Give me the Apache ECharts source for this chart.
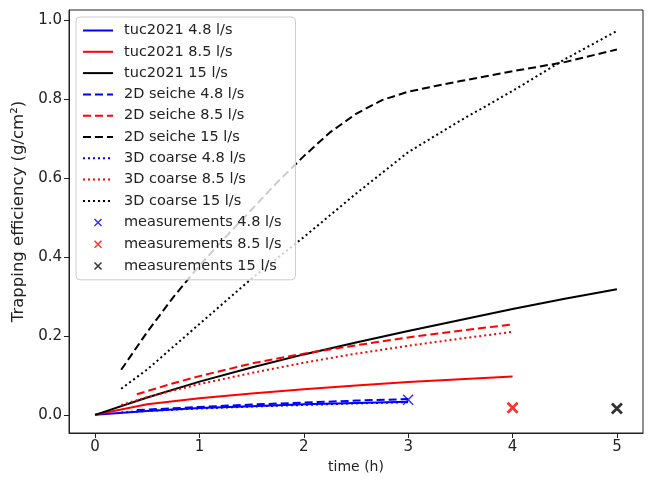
<!DOCTYPE html>
<html>
<head>
<meta charset="utf-8">
<script src="https://cdn.jsdelivr.net/npm/echarts@6/dist/echarts.min.js"></script>
<style>html,body{margin:0;padding:0;background:#fff}#c{width:652px;height:480px}</style>
</head>
<body>
<div id="c"></div>
<script>
// ---- data ----
const xTicks = [0, 1, 2, 3, 4, 5];
const yTicks = [0, 0.2, 0.4, 0.6, 0.8, 1.0];

const tucT15 = [0, 0.5, 1, 1.5, 2, 2.5, 3, 3.5, 4, 4.5, 5];
const tuc15 = [0, 0.044, 0.084, 0.12, 0.153, 0.183, 0.212, 0.24, 0.268, 0.294, 0.318];
const tucT85 = [0, 0.5, 1, 1.5, 2, 2.5, 3, 3.5, 4];
const tuc85 = [0, 0.027, 0.042, 0.054, 0.065, 0.074, 0.083, 0.09, 0.097];
const tucT48 = [0, 0.5, 1, 1.5, 2, 2.5, 3];
const tuc48 = [0, 0.01, 0.017, 0.022, 0.027, 0.03, 0.033];

const seicheT48 = [0.4, 1, 1.5, 2, 2.5, 3];
const seiche48 = [0.012, 0.02, 0.026, 0.031, 0.036, 0.04];
const seicheT85 = [0.4, 0.75, 1, 1.5, 2, 2.5, 3, 3.5, 4];
const seiche85 = [0.052, 0.08, 0.098, 0.13, 0.155, 0.176, 0.196, 0.213, 0.229];
const seicheT15 = [0.25, 0.5, 0.75, 1, 1.25, 1.5, 1.75, 2, 2.25, 2.5, 2.75, 3, 3.25, 3.5, 4, 4.5, 5];
const seiche15 = [0.114, 0.21, 0.298, 0.378, 0.45, 0.52, 0.59, 0.655, 0.715, 0.762, 0.797, 0.818, 0.832, 0.845, 0.87, 0.893, 0.925];

const coarseT48 = [0.25, 0.5, 1, 1.5, 2, 2.5, 3];
const coarse48 = [0.006, 0.01, 0.016, 0.021, 0.025, 0.029, 0.032];
const coarseT85 = [0.25, 0.5, 1, 1.5, 2, 2.5, 3, 3.5, 4];
const coarse85 = [0.025, 0.045, 0.078, 0.106, 0.132, 0.155, 0.175, 0.193, 0.21];
const coarseT15 = [0.25, 0.5, 1, 1.5, 2, 2.5, 3, 3.5, 4, 4.5, 5];
const coarse15 = [0.066, 0.115, 0.23, 0.345, 0.45, 0.56, 0.665, 0.745, 0.82, 0.9, 0.972];

const measT48 = [3], meas48 = [0.038];
const measT85 = [4], meas85 = [0.018];
const measT15 = [5], meas15 = [0.016];

// ---- chart ----
const BLUE = '#0000ff', RED = '#ff0000', BLACK = '#000000';
const DASH = [8, 4], DOT = [2, 3];
const XPATH = 'path://M-5,-5M15,15M0,0L10,10M10,0L0,10';
const zip = (t, v) => t.map((x, i) => [x, v[i]]);

function line(name, t, v, color, type) {
  return {
    name, type: 'line', data: zip(t, v), symbol: 'none', showSymbol: false,
    lineStyle: { color, width: 2, type }, itemStyle: { color },
    emphasis: { disabled: true }, animation: false
  };
}
function meas(name, t, v, color, bw) {
  return {
    name, type: 'scatter', data: zip(t, v),
    symbol: XPATH, symbolSize: 20,
    itemStyle: { color: color, borderColor: color, borderWidth: bw },
    emphasis: { disabled: true }, animation: false, z: 5
  };
}

const series = [
  line('tuc2021 4.8 l/s', tucT48, tuc48, BLUE, 'solid'),
  line('tuc2021 8.5 l/s', tucT85, tuc85, RED, 'solid'),
  line('tuc2021 15 l/s', tucT15, tuc15, BLACK, 'solid'),
  line('2D seiche 4.8 l/s', seicheT48, seiche48, BLUE, DASH),
  line('2D seiche 8.5 l/s', seicheT85, seiche85, RED, DASH),
  line('2D seiche 15 l/s', seicheT15, seiche15, BLACK, DASH),
  line('3D coarse 4.8 l/s', coarseT48, coarse48, BLUE, DOT),
  line('3D coarse 8.5 l/s', coarseT85, coarse85, RED, DOT),
  line('3D coarse 15 l/s', coarseT15, coarse15, BLACK, DOT),
  meas('measurements 4.8 l/s', measT48, meas48, BLUE, 1.5),
  meas('measurements 8.5 l/s', measT85, meas85, RED, 2.8),
  meas('measurements 15 l/s', measT15, meas15, BLACK, 2.8)
];

const legendData = series.map(s => s.type === 'line'
  ? { name: s.name, itemStyle: { opacity: 0 } }
  : { name: s.name, itemStyle: { borderWidth: 1.5 } });

const FONT = 'DejaVu Sans';
const chart = echarts.init(document.getElementById('c'), null, { renderer: 'canvas' });
chart.setOption({
  animation: false,
  backgroundColor: '#fff',
  textStyle: { fontFamily: FONT },
  grid: { left: 69, right: 9, top: 10, bottom: 47, show: true, borderColor: '#222', borderWidth: 1, backgroundColor: 'transparent' },
  legend: {
    orient: 'vertical', left: 76, top: 17,
    itemWidth: 30, itemHeight: 14, itemGap: 6.3,
    padding: [6, 14, 6, 6],
    backgroundColor: 'rgba(255,255,255,0.8)', borderColor: '#ccc', borderWidth: 1, borderRadius: 4,
    textStyle: { fontSize: 14.5, color: '#222', fontFamily: FONT, padding: [0, 0, 0, 6] },
    data: legendData,
    selectedMode: false
  },
  xAxis: {
    type: 'value', min: -0.25, max: 5.25,
    splitLine: { show: false },
    axisLine: { show: true, onZero: false, lineStyle: { color: '#222', width: 1 } },
    axisTick: { show: true, inside: false, length: 5, lineStyle: { color: '#222' }, customValues: xTicks },
    axisLabel: { fontSize: 15, color: '#222', margin: 7, customValues: xTicks, formatter: v => String(v) },
    name: 'time (h)', nameLocation: 'middle', nameGap: 27,
    nameTextStyle: { fontSize: 14, color: '#222' }
  },
  yAxis: {
    type: 'value', min: -0.046, max: 1.025,
    splitLine: { show: false },
    axisLine: { show: true, onZero: false, lineStyle: { color: '#222', width: 1 } },
    axisTick: { show: true, inside: false, length: 5, lineStyle: { color: '#222' }, customValues: yTicks },
    axisLabel: { fontSize: 15, color: '#222', margin: 7, customValues: yTicks, formatter: v => v.toFixed(1) },
    name: 'Trapping efficiency (g/cm²)', nameLocation: 'middle', nameGap: 39,
    nameTextStyle: { fontSize: 16.5, color: '#222', padding: [0, 0, 0, 20] }
  },
  series
});
</script>
</body>
</html>
